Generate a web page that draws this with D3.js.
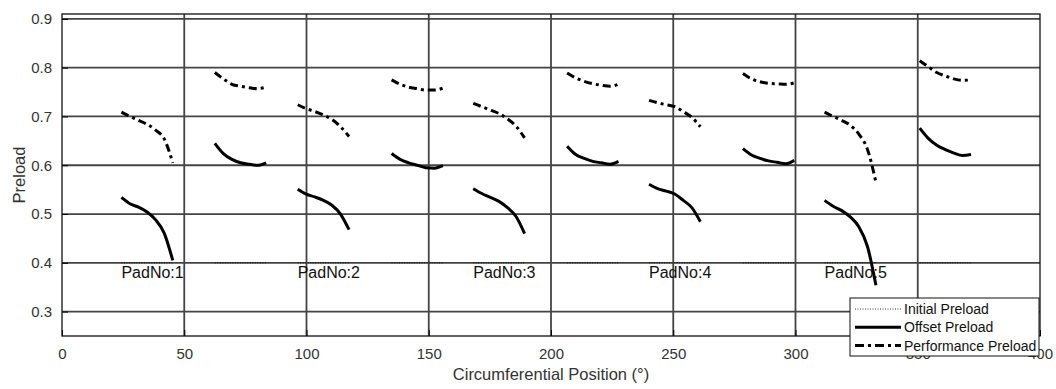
<!DOCTYPE html>
<html>
<head>
<meta charset="utf-8">
<script src="https://d3js.org/d3.v7.min.js"></script>
<style>
  body { margin: 0; background: #fff; }
  svg { display: block; font-family: "Liberation Sans", Arial, sans-serif; }
</style>
</head>
<body>
<svg id="chart" width="1056" height="389"></svg>
<script>
// 每组曲线的起始角度 (°)
const padStart = [24.3, 62.5, 96.4, 134.8, 168.2, 206.6, 240.1, 278.5, 311.9, 350.8];
// 组内相对角度
const relAngle = [0, 3.5, 7, 10.5, 14, 17.5, 21];

// Offset Preload，每组一行
const offsetPreload = [
    [0.534, 0.521, 0.514, 0.504, 0.488, 0.461, 0.405],
    [0.645, 0.624, 0.612, 0.605, 0.602, 0.600, 0.605],
    [0.551, 0.541, 0.535, 0.528, 0.518, 0.500, 0.468],
    [0.624, 0.612, 0.605, 0.600, 0.595, 0.594, 0.599],
    [0.552, 0.542, 0.534, 0.526, 0.513, 0.495, 0.460],
    [0.639, 0.622, 0.614, 0.608, 0.605, 0.602, 0.608],
    [0.561, 0.552, 0.547, 0.541, 0.528, 0.513, 0.484],
    [0.634, 0.621, 0.614, 0.609, 0.606, 0.603, 0.610],
    [0.528, 0.516, 0.507, 0.494, 0.474, 0.434, 0.354],
    [0.676, 0.655, 0.641, 0.632, 0.625, 0.620, 0.622]
];

// Performance Preload，每组一行
const performancePreload = [
    [0.709, 0.700, 0.692, 0.684, 0.672, 0.654, 0.605],
    [0.790, 0.777, 0.766, 0.762, 0.759, 0.757, 0.760],
    [0.724, 0.716, 0.710, 0.703, 0.694, 0.679, 0.659],
    [0.775, 0.766, 0.760, 0.757, 0.754, 0.754, 0.758],
    [0.727, 0.720, 0.713, 0.706, 0.695, 0.680, 0.656],
    [0.789, 0.779, 0.772, 0.767, 0.764, 0.762, 0.766],
    [0.733, 0.728, 0.724, 0.720, 0.710, 0.698, 0.679],
    [0.788, 0.777, 0.771, 0.768, 0.767, 0.766, 0.769],
    [0.709, 0.700, 0.692, 0.682, 0.664, 0.633, 0.565],
    [0.814, 0.802, 0.790, 0.783, 0.777, 0.774, 0.775]
];

const initialPreload = 0.4;

// 瓦块标注
const padLabels = ["PadNo:1", "PadNo:2", "PadNo:3", "PadNo:4", "PadNo:5"];
const padLabelAngle = [24.3, 96.4, 168.2, 240.1, 311.9];
const padLabelValue = 0.381;

const xTicks = [0, 50, 100, 150, 200, 250, 300, 350, 400];
const yTicks = [0.3, 0.4, 0.5, 0.6, 0.7, 0.8, 0.9];

const legendNames = ["Initial Preload", "Offset Preload", "Performance Preload"];

// 绘图区域
const plotLeft = 62, plotRight = 1040, plotTop = 14, plotBottom = 336;
const svg = d3.select("#chart");

const x = d3.scaleLinear().domain([0, 400]).range([plotLeft, plotRight]);
const y = d3.scaleLinear().domain([0.25, 0.91]).range([plotBottom, plotTop]);

const gridColor = "#444";

// 网格线
svg.append("g").selectAll("line").data(xTicks.slice(1, -1)).join("line")
    .attr("x1", d => x(d)).attr("x2", d => x(d))
    .attr("y1", plotTop).attr("y2", plotBottom)
    .attr("stroke", gridColor).attr("stroke-width", 1.8);
svg.append("g").selectAll("line").data(yTicks).join("line")
    .attr("x1", plotLeft).attr("x2", plotRight)
    .attr("y1", d => y(d)).attr("y2", d => y(d))
    .attr("stroke", gridColor).attr("stroke-width", 1.8);

// 坐标轴（刻度朝内）
svg.append("g")
    .attr("transform", `translate(0,${plotBottom})`)
    .call(d3.axisBottom(x).tickValues(xTicks).tickSize(-6).tickPadding(12))
    .call(g => g.select(".domain").remove())
    .call(g => g.selectAll("text").attr("font-size", 15).attr("fill", "#333"));
svg.append("g")
    .attr("transform", `translate(${plotLeft},0)`)
    .call(d3.axisLeft(y).tickValues(yTicks).tickFormat(d3.format(".1f")).tickSize(-6).tickPadding(10))
    .call(g => g.select(".domain").remove())
    .call(g => g.selectAll("text").attr("font-size", 15).attr("fill", "#333"));

// 外框
svg.append("rect")
    .attr("x", plotLeft).attr("y", plotTop)
    .attr("width", plotRight - plotLeft).attr("height", plotBottom - plotTop)
    .attr("fill", "none").attr("stroke", "#111").attr("stroke-width", 1.3);

// 初始预载荷（点线）
svg.append("g").selectAll("line").data(padStart).join("line")
    .attr("x1", d => x(d)).attr("x2", d => x(d + relAngle[relAngle.length - 1]))
    .attr("y1", y(initialPreload)).attr("y2", y(initialPreload))
    .attr("stroke", "#000").attr("stroke-width", 0.8)
    .attr("stroke-dasharray", "1,1.5");

const line = d3.line()
    .x(d => x(d[0])).y(d => y(d[1]))
    .curve(d3.curveMonotoneX);

function toPoints(start, values) {
    return values.map((v, i) => [start + relAngle[i], v]);
}

// Offset Preload 实线
svg.append("g").selectAll("path")
    .data(offsetPreload.map((vals, i) => toPoints(padStart[i], vals)))
    .join("path")
    .attr("d", line)
    .attr("fill", "none").attr("stroke", "#000")
    .attr("stroke-width", 3).attr("stroke-linejoin", "round");

// Performance Preload 点划线
svg.append("g").selectAll("path")
    .data(performancePreload.map((vals, i) => toPoints(padStart[i], vals)))
    .join("path")
    .attr("d", line)
    .attr("fill", "none").attr("stroke", "#000")
    .attr("stroke-width", 3).attr("stroke-dasharray", "8,4,3,4");

// 瓦块编号
svg.append("g").selectAll("text").data(padLabels).join("text")
    .attr("x", (d, i) => x(padLabelAngle[i]))
    .attr("y", y(padLabelValue))
    .attr("dy", "0.35em")
    .attr("font-size", 16).attr("fill", "#111")
    .text(d => d);

// 轴标题
svg.append("text")
    .attr("x", (plotLeft + plotRight) / 2).attr("y", 380)
    .attr("text-anchor", "middle").attr("font-size", 16.5).attr("fill", "#333")
    .text("Circumferential Position (°)");
svg.append("text")
    .attr("transform", `translate(25,${(plotTop + plotBottom) / 2}) rotate(-90)`)
    .attr("text-anchor", "middle").attr("font-size", 16.5).attr("fill", "#333")
    .text("Preload");

// 图例
const legend = svg.append("g").attr("transform", "translate(850,298)");
legend.append("rect")
    .attr("width", 189).attr("height", 58)
    .attr("fill", "#fff").attr("stroke", "#111").attr("stroke-width", 1);

const legendStyles = [
    { width: 0.8, dash: "1,1.5" },
    { width: 3, dash: null },
    { width: 3, dash: "9,4,3,4" }
];

legendNames.forEach((name, i) => {
    let rowY = 11 + i * 18.3;
    legend.append("line")
        .attr("x1", 5).attr("x2", 51)
        .attr("y1", rowY).attr("y2", rowY)
        .attr("stroke", "#000")
        .attr("stroke-width", legendStyles[i].width)
        .attr("stroke-dasharray", legendStyles[i].dash);
    legend.append("text")
        .attr("x", 54).attr("y", rowY).attr("dy", "0.35em")
        .attr("font-size", 14).attr("fill", "#111")
        .text(name);
});
</script>
</body>
</html>
